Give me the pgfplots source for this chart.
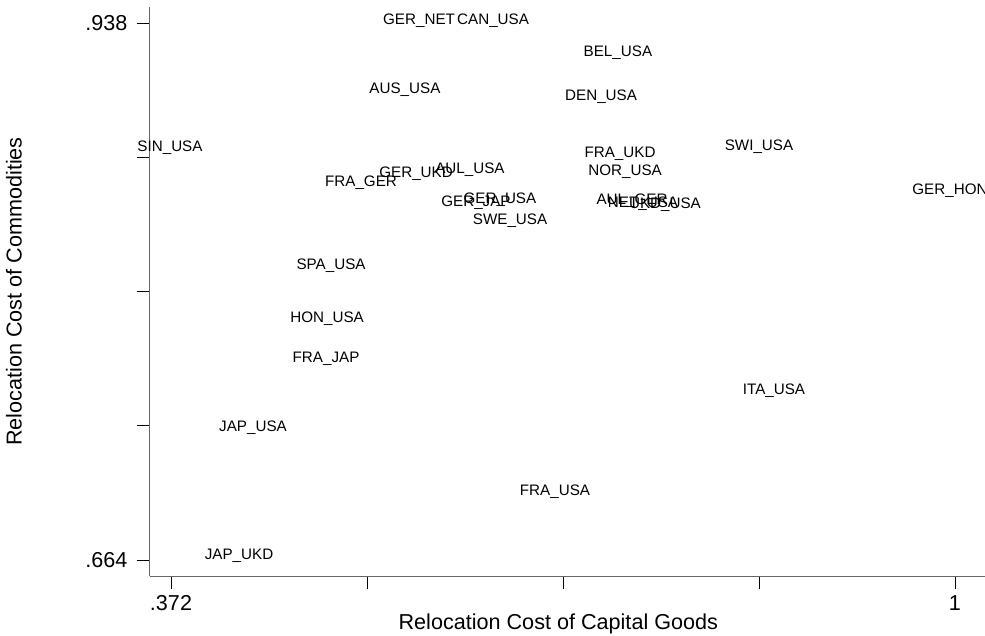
\documentclass[border=0pt]{standalone}
\usepackage{fontspec}
\setmainfont{Liberation Sans}
\usepackage{pgfplots}
\pgfplotsset{compat=1.18}
\begin{document}
\begin{tikzpicture}
\begin{axis}[
  scale only axis, width=835pt, height=569pt,
  xmin=0.35518, xmax=1.02404, ymin=0.65584, ymax=0.94616,
  axis x line*=bottom, axis y line*=left,
  axis line style={black!60, line width=1pt},
  xtick={0.372,0.529,0.686,0.843,1}, xticklabels={.372,,,,1},
  ytick={0.664,0.7325,0.801,0.8695,0.938}, yticklabels={.664,,,,.938},
  tick align=outside, major tick length=13pt,
  tick style={black, line width=0.8pt},
  ticklabel style={font=\fontsize{21.6}{26}\selectfont},
  yticklabel style={xshift=-6pt},
  xticklabel style={yshift=-3pt},
  clip=false,
  xlabel={Relocation Cost of Capital Goods},
  ylabel={Relocation Cost of Commodities},
  label style={font=\fontsize{21.6}{26}\selectfont},
  xlabel style={at={(axis description cs:0.489,-0.0949)}, anchor=base},
  ylabel style={at={(axis description cs:-0.1629,0.5)}, anchor=center},
]
\addplot[only marks, mark=*, mark size=0pt, mark options={draw=none,fill=none},
  nodes near coords, nodes near coords align=center,
  point meta=explicit symbolic,
  every node near coord/.append style={font=\fontsize{15.2}{18}\selectfont, text=black, inner sep=0pt, yshift=-2pt}]
  table[meta=label, row sep=\\] {
x y label\\
0.5707 0.9402 GER\_NET\\
0.6300 0.9402 CAN\_USA\\
0.7300 0.9237 BEL\_USA\\
0.5594 0.9048 AUS\_USA\\
0.7165 0.9012 DEN\_USA\\
0.3712 0.8752 SIN\_USA\\
0.8430 0.8757 SWI\_USA\\
0.7317 0.8722 FRA\_UKD\\
0.7357 0.8630 NOR\_USA\\
0.5683 0.8620 GER\_UKD\\
0.6115 0.8640 AUL\_USA\\
0.5242 0.8574 FRA\_GER\\
0.9960 0.8533 GER\_HON\\
0.6355 0.8487 GER\_USA\\
0.6163 0.8472 GER\_JAP\\
0.6436 0.8380 SWE\_USA\\
0.7413 0.8482 AUL\_GER\\
0.7501 0.8467 NET\_USA\\
0.7677 0.8461 UKD\_USA\\
0.5002 0.8150 SPA\_USA\\
0.4970 0.7880 HON\_USA\\
0.4962 0.7676 FRA\_JAP\\
0.8550 0.7512 ITA\_USA\\
0.4377 0.7324 JAP\_USA\\
0.6796 0.6997 FRA\_USA\\
0.4265 0.6671 JAP\_UKD\\
};
\end{axis}
\pgfresetboundingbox
\path[use as bounding box] (-150pt,-59pt) rectangle (835pt,576pt);
\end{tikzpicture}
\end{document}
